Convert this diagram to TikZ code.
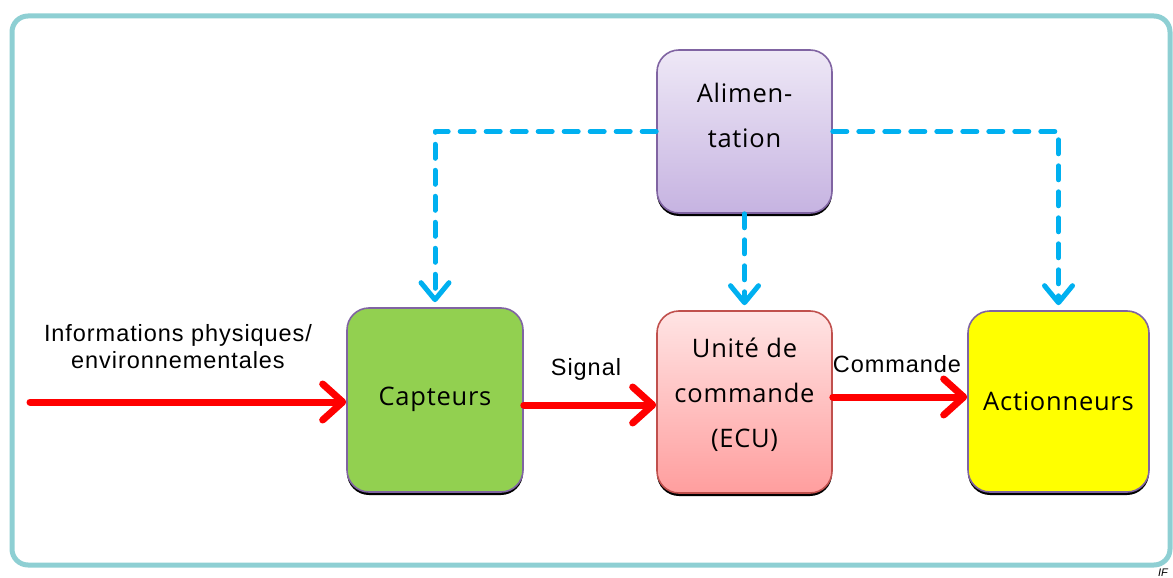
\documentclass[tikz,border=0pt]{standalone}
\usepackage{fontspec}
\usetikzlibrary{arrows.meta,shadows,calc}
\newfontfamily\boxfnt[LetterSpace=3]{Open Sans}
\newfontfamily\lblfnt[LetterSpace=4]{Liberation Sans}
\newfontfamily\iffnt{Liberation Sans}
\definecolor{framec}{HTML}{8ECFD3}
\definecolor{boxpurple}{HTML}{8064A2}
\definecolor{ecuborder}{HTML}{C0504D}
\definecolor{capgreen}{HTML}{92D050}
\definecolor{actyellow}{HTML}{FFFF00}
\definecolor{pwblue}{HTML}{00B0F0}
\definecolor{alitop}{HTML}{EEE8F6}
\definecolor{alibot}{HTML}{C6B3E1}
\definecolor{ecutop}{HTML}{FFE4E4}
\definecolor{ecubot}{HTML}{FF9E9E}
\tikzset{
  blk/.style={draw=boxpurple, line width=1.6pt, rounded corners=22pt, inner sep=0pt,
    drop shadow={shadow xshift=0pt, shadow yshift=-3pt, fill=black, opacity=1}},
  btxt/.style={align=center, font=\boxfnt\fontsize{25.5}{45}\selectfont, text=black, inner sep=0pt},
  pw/.style={pwblue, line width=5pt, line cap=round, line join=round,
    dash pattern=on 14pt off 12pt, -{Straight Barb[length=17pt,width=28pt,round]}},
  sig/.style={red, line width=7pt, line cap=round,
    -{Straight Barb[length=20pt,width=36pt,round]}},
  lbl/.style={font=\lblfnt\fontsize{23.5}{27}\selectfont, align=center, text=black}
}
\begin{document}
\begin{tikzpicture}[x=1pt,y=-1pt]
\useasboundingbox (0,0) rectangle (1173,578);
\draw[framec, line width=5pt, rounded corners=16pt] (12,16) rectangle (1170,565);
\node[blk, shading=axis, top color=alitop, bottom color=alibot,
  minimum width=175pt, minimum height=163pt] (ali) at (744.5,131.5) {};
\node[btxt] (alit) at ([yshift=16pt]ali.center) {Alimen-\\tation};
\node[blk, fill=capgreen, minimum width=176pt, minimum height=184pt] (cap) at (435,400) {};
\node[btxt] (capt) at ([yshift=1pt]cap.center) {Capteurs};
\node[blk, draw=ecuborder, shading=axis, top color=ecutop, bottom color=ecubot,
  minimum width=175pt, minimum height=182pt] (ecu) at (744.5,402) {};
\node[btxt] (ecut) at ([yshift=7pt]ecu.center) {Unité de\\commande\\(ECU)};
\node[blk, fill=actyellow, minimum width=181pt, minimum height=181pt] (act) at (1058.5,401.5) {};
\node[btxt] (actt) at ([yshift=0pt]act.center) {Actionneurs};
\draw[pw, shorten >=5pt] (ali.west) -| (cap.north);
\draw[pw, shorten >=5pt] (ali.south) -- (ecu.north);
\draw[pw, shorten >=5pt] (ali.east) -| (act.north);
\coordinate (src) at (30,402);
\draw[sig] (src) -- (src -| cap.west);
\draw[sig] ([yshift=-5pt]cap.east) -- ([yshift=-5pt]cap.east -| ecu.west);
\draw[sig] ([yshift=5pt]ecu.east) -- ([yshift=5pt]ecu.east -| act.west);
\node[lbl] (info) at (178,347) {Informations physiques/\\environnementales};
\node[lbl] (sl) at (586,369) {Signal};
\node[lbl] (cl) at (897,364) {Commande};
\node[font=\iffnt\itshape\fontsize{11}{11}\selectfont, anchor=base, inner sep=0pt] (if) at (1163,576.5) {IF};
\end{tikzpicture}
\end{document}
